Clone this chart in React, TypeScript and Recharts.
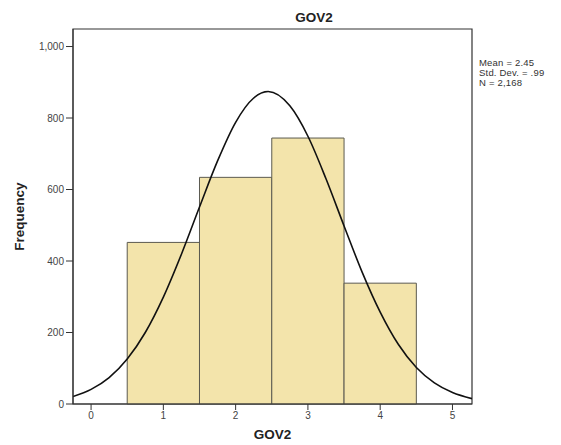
import React from "react";
import {
  ComposedChart,
  Line,
  XAxis,
  YAxis,
  ReferenceArea,
} from "recharts";

// Histogram bins (GOV2 values 1..4)
const binCenters = [1, 2, 3, 4];
const binCounts = [452, 634, 744, 338];

// Normal curve (x value, frequency)
const curveX = [-0.25, 0, 0.25, 0.5, 0.75, 1, 1.25, 1.5, 1.75, 2, 2.25, 2.45, 2.75, 3, 3.25, 3.5, 3.75, 4, 4.25, 4.5, 4.75, 5, 5.27];
const curveY = [21, 41, 74, 126, 200, 299, 419, 551, 680, 788, 856, 874, 834, 749, 630, 498, 369, 257, 167, 102, 59, 32, 15];

const xTicks = [0, 1, 2, 3, 4, 5];
const yTicks = [0, 200, 400, 600, 800, 1000];

const statLines = ["Mean = 2.45", "Std. Dev. = .99", "N = 2,168"];

const curveData = curveX.map((x, i) => ({ x, y: curveY[i] }));

const FONT = "'Liberation Sans', Arial, sans-serif";
const X_MIN = -0.25;
const X_MAX = 5.27;
const Y_MAX = 1049;

export default function App() {
  return (
    <div style={{ position: "absolute", left: 0, top: 0, width: 561, height: 445, background: "#fff", fontFamily: FONT }}>
      <ComposedChart
        width={561}
        height={445}
        data={curveData}
        margin={{ top: 29, right: 89, bottom: 0, left: 0 }}
      >
        <ReferenceArea
          x1={X_MIN}
          x2={X_MAX}
          y1={0}
          y2={Y_MAX}
          fill="none"
          stroke="#333"
          strokeWidth={1.2}
          ifOverflow="visible"
        />
        {binCenters.map((c, i) => (
          <ReferenceArea
            key={c}
            x1={c - 0.5}
            x2={c + 0.5}
            y1={0}
            y2={binCounts[i]}
            fill="#f3e4ab"
            fillOpacity={1}
            stroke="#5b5a50"
            strokeWidth={1}
            ifOverflow="visible"
          />
        ))}
        <XAxis
          dataKey="x"
          type="number"
          domain={[X_MIN, X_MAX]}
          ticks={xTicks}
          allowDataOverflow
          height={41}
          tickSize={6}
          stroke="#333"
          tick={{ fontSize: 10, fill: "#444", fontFamily: FONT }}
          label={{ value: "GOV2", position: "insideBottom", offset: 6, style: { fontSize: 13.5, fontWeight: "bold", fill: "#222", fontFamily: FONT } }}
        />
        <YAxis
          type="number"
          domain={[0, Y_MAX]}
          ticks={yTicks}
          allowDataOverflow
          width={73}
          tickSize={7}
          stroke="#333"
          tickFormatter={(v: number) => v.toLocaleString("en-US")}
          tick={{ fontSize: 10, fill: "#444", fontFamily: FONT }}
          label={{ value: "Frequency", angle: -90, position: "insideLeft", offset: 19, style: { fontSize: 13.5, fontWeight: "bold", fill: "#222", fontFamily: FONT, textAnchor: "middle" } }}
        />
        <Line
          dataKey="y"
          type="monotone"
          stroke="#111"
          strokeWidth={1.6}
          dot={false}
          isAnimationActive={false}
        />
      </ComposedChart>
      <div style={{ position: "absolute", left: 264, top: 10, width: 100, textAlign: "center", fontSize: 13.5, fontWeight: "bold", color: "#222", lineHeight: "16px" }}>
        GOV2
      </div>
      <div style={{ position: "absolute", left: 479, top: 58, fontSize: 9.5, lineHeight: "10px", letterSpacing: 0.2, color: "#333" }}>
        {statLines.map((s) => (
          <div key={s}>{s}</div>
        ))}
      </div>
    </div>
  );
}
